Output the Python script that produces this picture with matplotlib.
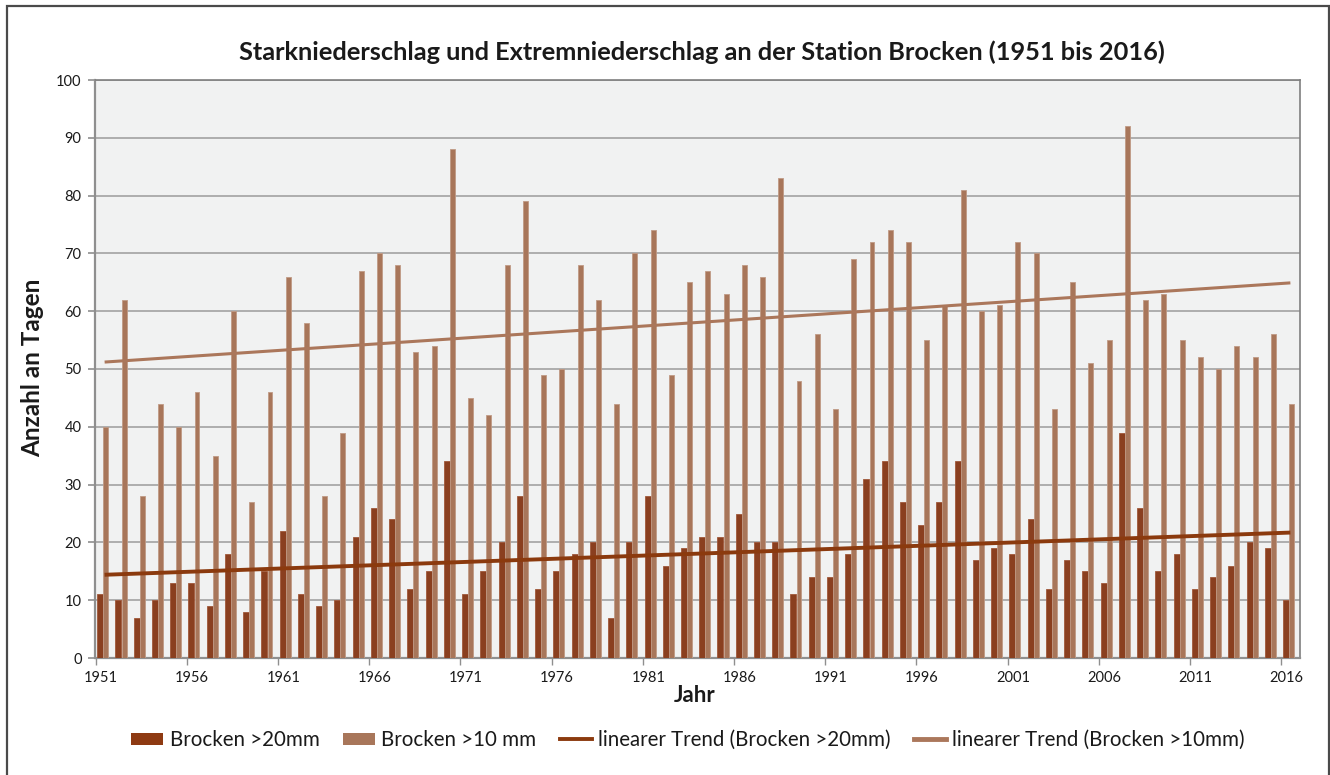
import matplotlib
matplotlib.use('Agg')
import matplotlib.pyplot as plt
import numpy as np
from matplotlib.patches import Rectangle, Patch
from matplotlib.lines import Line2D

# ---------------- data ----------------
years = list(range(1951, 2017))
brocken_20 = [11, 10, 7, 10, 13, 13, 9, 18, 8, 15,
              22, 11, 9, 10, 21, 26, 24, 12, 15, 34,
              11, 15, 20, 28, 12, 15, 18, 20, 7, 20,
              28, 16, 19, 21, 21, 25, 20, 20, 11, 14,
              14, 18, 31, 34, 27, 23, 27, 34, 17, 19,
              18, 24, 12, 17, 15, 13, 39, 26, 15, 18,
              12, 14, 16, 20, 19, 10]
brocken_10 = [40, 62, 28, 44, 40, 46, 35, 60, 27, 46,
              66, 58, 28, 39, 67, 70, 68, 53, 54, 88,
              45, 42, 68, 79, 49, 50, 68, 62, 44, 70,
              74, 49, 65, 67, 63, 68, 66, 83, 48, 56,
              43, 69, 72, 74, 72, 55, 61, 81, 60, 61,
              72, 70, 43, 65, 51, 55, 92, 62, 63, 55,
              52, 50, 54, 52, 56, 44]
trend_years = [1951, 2016]
trend_20 = [14.4, 21.7]
trend_10 = [51.2, 64.9]
tick_years = [1951, 1956, 1961, 1966, 1971, 1976, 1981, 1986, 1991, 1996, 2001, 2006, 2011, 2016]
y_ticks = [0, 10, 20, 30, 40, 50, 60, 70, 80, 90, 100]

title = "Starkniederschlag und Extremniederschlag an der Station Brocken (1951 bis 2016)"
labels = ["Brocken >20mm", "Brocken >10 mm",
          "linearer Trend (Brocken >20mm)", "linearer Trend (Brocken >10mm)"]

# ---------------- style ----------------
FONT = ['Lato', 'DejaVu Sans']
plt.rcParams['font.family'] = FONT
DARK = '#8a3f1f'
DARK_LEG = '#8e3a12'
LIGHT = '#a8765a'
TREND_DARK = '#8b3a0e'
TREND_LIGHT = '#ab775b'
GRID = '#a8a8a8'
SPINE = '#8f8f8f'
TXT = '#1a1a1a'

W, H = 1330, 775
fig = plt.figure(figsize=(W / 100, H / 100), dpi=100)
fig.patch.set_facecolor('white')

left, right, top, bottom = 95.5, 1299.5, 80, 658
ax = fig.add_axes([left / W, 1 - bottom / H, (right - left) / W, (bottom - top) / H])
ax.set_facecolor('#f1f2f2')

x = np.array(years, dtype=float)
ax.bar(x - 0.24, brocken_20, width=0.33, color=DARK, edgecolor='#a0583a', linewidth=0.6, zorder=3)
ax.bar(x + 0.065, brocken_10, width=0.27, color=LIGHT, edgecolor='#c09a85', linewidth=0.6, zorder=3)

ax.plot(trend_years, trend_10, color=TREND_LIGHT, lw=2.2, zorder=4, solid_capstyle='butt')
ax.plot(trend_years, trend_20, color=TREND_DARK, lw=2.8, zorder=4, solid_capstyle='butt')

ax.set_xlim(years[0] - 0.5, years[-1] + 0.5)
ax.set_ylim(0, 100)

ax.set_yticks(y_ticks)
ax.set_yticklabels([str(v) for v in y_ticks], fontsize=10.5, color=TXT)
ax.tick_params(axis='y', length=5, width=1.2, color=SPINE, pad=5)
ax.yaxis.grid(True, color=GRID, lw=1.3, zorder=1)
ax.set_axisbelow(True)

ax.set_xticks([t - 0.5 for t in tick_years])
ax.set_xticklabels([])
ax.tick_params(axis='x', which='major', length=5, width=1.0, color=SPINE, direction='out')
ax.set_xticks([t - 0.2 for t in tick_years], minor=True)
ax.set_xticklabels([str(t) for t in tick_years], minor=True, fontsize=10.5, color=TXT)
ax.tick_params(axis='x', which='minor', length=0, pad=9)

for s in ['left', 'bottom']:
    ax.spines[s].set_color(SPINE)
    ax.spines[s].set_linewidth(1.6)
for s in ['top', 'right']:
    ax.spines[s].set_color('#7f7f7f')
    ax.spines[s].set_linewidth(1.2)

fig.text(702 / W, 1 - 52 / H, title, ha='center', va='center',
         fontsize=18.3, fontweight='bold', color=TXT)
fig.text(33 / W, 1 - 368 / H, "Anzahl an Tagen", rotation=90, ha='center', va='center',
         fontsize=17.5, fontweight='bold', color=TXT)
fig.text(695 / W, 1 - 696 / H, "Jahr", ha='center', va='center',
         fontsize=16, fontweight='bold', color=TXT)

handles = [Patch(facecolor=DARK_LEG, edgecolor='none'),
           Patch(facecolor=LIGHT, edgecolor='none'),
           Line2D([0], [0], color=TREND_DARK, lw=2.8),
           Line2D([0], [0], color=TREND_LIGHT, lw=3.5)]
leg = fig.legend(handles, labels, loc='center', bbox_to_anchor=(688 / W, 1 - 740 / H),
                 ncol=4, frameon=False, fontsize=14.8, handlelength=1.55, handleheight=0.55,
                 handletextpad=0.3, columnspacing=1.15)
for t in leg.get_texts():
    t.set_color(TXT)

# outer frame
fig.patches.append(Rectangle((7 / W, -0.01), (1329 - 7) / W, 1.01 - 6 / H,
                             transform=fig.transFigure, fill=False,
                             edgecolor='#4a4a4a', lw=1.6))

fig.savefig('out.png', dpi=100)
